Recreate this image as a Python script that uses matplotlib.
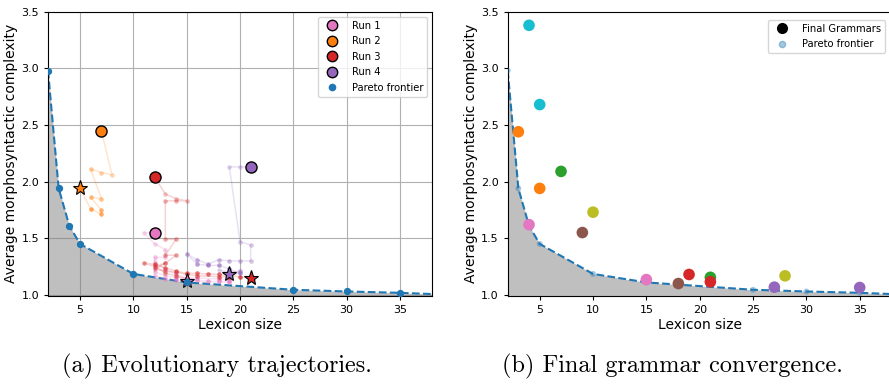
import numpy as np
import matplotlib
matplotlib.use("Agg")
import matplotlib.pyplot as plt
from matplotlib.lines import Line2D

# Pareto frontier (lexicon size, complexity)
pareto_x = [2, 3, 4, 5, 10, 15, 25, 30, 35, 40]
pareto_y = [2.98, 1.94, 1.61, 1.45, 1.185, 1.11, 1.045, 1.03, 1.018, 1.0]

# Evolutionary trajectories, several paths per run
run_names = ["Run 1", "Run 2", "Run 3", "Run 4"]
run_colors = ["#e377c2", "#ff7f0e", "#d62728", "#9467bd"]
run_start = [(12, 1.55), (7, 2.45), (12, 2.04), (21, 2.13)]
run_end = [(15, 1.12), (5, 1.94), (21, 1.15), (19, 1.18)]

run1_paths = [
    [(12, 1.55), (11, 1.55), (12, 1.45), (13, 1.40), (13, 1.33), (12, 1.33),
     (12, 1.27), (13, 1.23), (14, 1.18), (15, 1.15), (16, 1.13), (17, 1.12),
     (18, 1.12), (19, 1.11), (15, 1.12)],
    [(12, 1.30), (12, 1.20), (13, 1.17), (14, 1.15), (16, 1.15), (18, 1.14),
     (19, 1.13)],
    [(12, 1.24), (12, 1.17), (13, 1.14), (14, 1.13), (15, 1.12)],
]
run2_paths = [
    [(7, 2.45), (8, 2.06), (7, 2.08), (6, 2.11), (7, 1.85), (6, 1.86),
     (7, 1.75), (7, 1.71), (6, 1.76), (5, 1.94)],
]
run3_paths = [
    [(12, 2.04), (13, 1.89), (14, 1.85), (15, 1.83), (14, 1.83), (13, 1.83),
     (13, 1.49), (14, 1.49), (13, 1.35), (14, 1.35), (13, 1.28), (12, 1.25),
     (11, 1.28), (12, 1.27), (13, 1.24), (14, 1.21), (15, 1.19), (16, 1.19),
     (17, 1.185), (18, 1.18), (19, 1.17), (20, 1.16), (21, 1.15)],
    [(13, 1.28), (12, 1.23), (13, 1.21), (14, 1.20), (15, 1.18), (16, 1.17),
     (18, 1.16), (19, 1.16)],
    [(12, 1.26), (13, 1.19), (14, 1.17), (15, 1.14)],
]
run4_paths = [
    [(21, 2.13), (20, 2.13), (19, 2.13), (20, 1.47), (21, 1.44), (21, 1.30),
     (20, 1.30), (19, 1.30), (18, 1.31), (17, 1.27), (16, 1.31), (15, 1.36),
     (16, 1.27), (17, 1.26), (18, 1.26), (19, 1.23), (20, 1.19), (19, 1.18)],
    [(18, 1.22), (19, 1.20), (20, 1.21), (19, 1.18)],
]
run_paths = [run1_paths, run2_paths, run3_paths, run4_paths]

# Final grammars (right panel)
final_x = [4, 5, 3, 5, 7, 10, 9, 4, 15, 18, 19, 21, 21, 27, 28, 35]
final_y = [3.38, 2.68, 2.44, 1.94, 2.09, 1.73, 1.55, 1.62, 1.135, 1.10,
           1.18, 1.155, 1.115, 1.068, 1.168, 1.065]
final_c = ["#17becf", "#17becf", "#ff7f0e", "#ff7f0e", "#2ca02c", "#bcbd22",
           "#8c564b", "#e377c2", "#e377c2", "#8c564b", "#d62728", "#2ca02c",
           "#d62728", "#9467bd", "#bcbd22", "#9467bd"]

W, H = 889, 386
fig = plt.figure(figsize=(W / 100, H / 100), dpi=100)
axL = fig.add_axes([48 / W, 1 - 296 / H, 384 / W, 284.3 / H])
axR = fig.add_axes([507.7 / W, 1 - 296 / H, 384 / W, 284.3 / H])

for ax in (axL, axR):
    ax.set_xlim(2, 38)
    ax.set_ylim(0.99, 3.5)
    ax.fill_between(pareto_x, pareto_y, 0.99, color="gray", alpha=0.5,
                    lw=0, zorder=1)
    ax.plot(pareto_x, pareto_y, "--", color="#1f77b4", lw=1.5, zorder=2)
    ax.set_xticks([5, 10, 15, 20, 25, 30, 35])
    ax.set_yticks([1.0, 1.5, 2.0, 2.5, 3.0, 3.5])
    ax.tick_params(labelsize=8, length=3)
    ax.set_xlabel("Lexicon size", fontsize=10, labelpad=2)
    ax.set_ylabel("Average morphosyntactic complexity", fontsize=10,
                  labelpad=2)

# left panel
axL.grid(True, color="#b0b0b0", lw=0.8)
axL.set_axisbelow(True)
for name, col, paths, s, e in zip(run_names, run_colors, run_paths,
                                  run_start, run_end):
    for p in paths:
        px = [q[0] for q in p]
        py = [q[1] for q in p]
        axL.plot(px, py, "-", color=col, lw=1.1, alpha=0.2, zorder=3)
        alphas = np.linspace(0.25, 0.75, len(px))
        for xx, yy, a in zip(px, py, alphas):
            axL.plot(xx, yy, "o", color=col, ms=3.3, alpha=a, mec="none",
                     zorder=3)
    axL.plot(*s, "o", color=col, ms=8, mec="black", mew=1, zorder=5)
    axL.plot(*e, "*", color=col, ms=11, mec="black", mew=0.8, zorder=4)
axL.scatter(pareto_x, pareto_y, s=18, color="#1f77b4", zorder=6)

handles = [Line2D([], [], ls="none", marker="o", color=c, ms=7.5,
                  mec="black", mew=1, label=n)
           for n, c in zip(run_names, run_colors)]
handles.append(Line2D([], [], ls="none", marker="o", color="#1f77b4",
                      ms=4.5, label="Pareto frontier"))
axL.legend(handles=handles, loc="upper right", fontsize=7.2,
           borderaxespad=0.5, handletextpad=1.0, labelspacing=0.55)

# right panel
axR.scatter(pareto_x, pareto_y, s=18, color="#1f77b4", alpha=0.4,
            edgecolor="none", zorder=3)
axR.scatter(final_x, final_y, s=70, c=final_c, edgecolor="none", zorder=4)
rh = [Line2D([], [], ls="none", marker="o", color="black", ms=7,
             label="Final Grammars"),
      Line2D([], [], ls="none", marker="o", color="#1f77b4", alpha=0.4,
             ms=4.5, label="Pareto frontier")]
axR.legend(handles=rh, loc="upper right", fontsize=7.2,
           bbox_to_anchor=(0.995, 0.99), handletextpad=1.0,
           labelspacing=0.55)

fig.text(217 / W, 1 - 366 / H, "(a) Evolutionary trajectories.",
         family="cmr10", fontsize=17.5, ha="center", va="center")
fig.text(672 / W, 1 - 366 / H, "(b) Final grammar convergence.",
         family="cmr10", fontsize=17.5, ha="center", va="center")

fig.savefig("out.png", dpi=100)
